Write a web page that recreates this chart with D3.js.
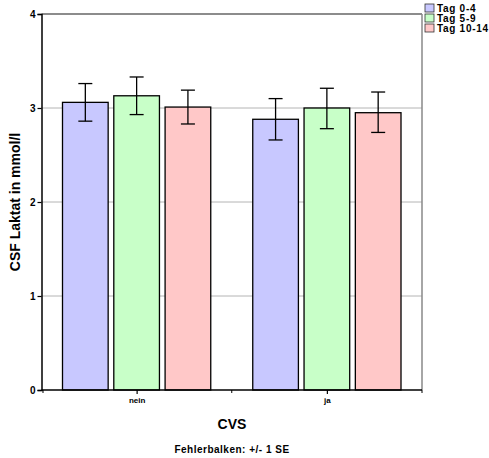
<!DOCTYPE html>
<html><head><meta charset="utf-8">
<script src="https://cdn.jsdelivr.net/npm/d3@7"></script>
<style>
html,body{margin:0;padding:0;background:#fff;}
svg text{font-family:"Liberation Sans",Arial,Helvetica,sans-serif;font-weight:bold;}
</style></head>
<body><svg id="c" width="489" height="458"></svg>
<script>
const categories = ["nein", "ja"];
const seriesNames = ["Tag 0-4", "Tag 5-9", "Tag 10-14"];
const means = [[3.06, 2.88], [3.13, 3.00], [3.01, 2.95]];
const errLow = [[2.86, 2.66], [2.93, 2.78], [2.83, 2.74]];
const errHigh = [[3.26, 3.10], [3.33, 3.21], [3.19, 3.17]];
const yTicks = [0, 1, 2, 3, 4];
const colors = ["#c8c8ff", "#c8ffc8", "#ffc8c8"];

const svg = d3.select("#c");
const L = 41.5, R = 422, T = 14, B = 390;
const y = d3.scaleLinear().domain([0, 4]).range([B, T]);
const x0 = d3.scaleBand().domain(categories).range([L, R]).paddingInner(0).paddingOuter(0);
const x1 = d3.scaleBand().domain(seriesNames).range([21, x0.bandwidth() - 21]).paddingInner(0.11).paddingOuter(0);

// gridlines
svg.append("g").selectAll("line").data(yTicks.filter(d => d > 0 && d < 4)).join("line")
  .attr("x1", L).attr("x2", R).attr("y1", d => y(d)).attr("y2", d => y(d))
  .attr("stroke", "#b4b4b4").attr("stroke-width", 1);

// frame top/right
svg.append("line").attr("x1", L).attr("x2", R).attr("y1", T).attr("y2", T).attr("stroke", "#666").attr("stroke-width", 1.5);
svg.append("line").attr("x1", R).attr("x2", R).attr("y1", T).attr("y2", B).attr("stroke", "#888").attr("stroke-width", 1.5);

// bars
const groups = svg.append("g").selectAll("g").data(categories).join("g")
  .attr("transform", d => `translate(${x0(d)},0)`);
seriesNames.forEach((s, si) => {
  groups.append("rect")
    .attr("x", x1(s)).attr("width", x1.bandwidth())
    .attr("y", (d, ci) => y(means[si][ci]))
    .attr("height", (d, ci) => B - y(means[si][ci]))
    .attr("fill", colors[si]).attr("stroke", "#000").attr("stroke-width", 1.3);
  const cx = x1(s) + x1.bandwidth() / 2;
  groups.append("line").attr("x1", cx).attr("x2", cx)
    .attr("y1", (d, ci) => y(errLow[si][ci])).attr("y2", (d, ci) => y(errHigh[si][ci]))
    .attr("stroke", "#000").attr("stroke-width", 1.3);
  [errLow, errHigh].forEach(arr => {
    groups.append("line").attr("x1", cx - 7).attr("x2", cx + 7)
      .attr("y1", (d, ci) => y(arr[si][ci])).attr("y2", (d, ci) => y(arr[si][ci]))
      .attr("stroke", "#000").attr("stroke-width", 1.3);
  });
});

// y axis
const yAxis = svg.append("g").attr("transform", `translate(${L},0)`)
  .call(d3.axisLeft(y).tickValues(yTicks).tickFormat(d3.format("d")).tickSize(4).tickPadding(2));
yAxis.select(".domain").attr("stroke", "#000").attr("stroke-width", 1.5);
yAxis.selectAll(".tick line").attr("stroke", "#000").attr("stroke-width", 1.2);
yAxis.selectAll("text").attr("font-size", 10).attr("fill", "#000");

// x axis
const xAxis = svg.append("g").attr("transform", `translate(0,${B})`)
  .call(d3.axisBottom(d3.scalePoint().domain(categories).range([x0("nein") + x0.bandwidth() / 2, x0("ja") + x0.bandwidth() / 2])).tickSize(4).tickPadding(3));
xAxis.select(".domain").remove();
xAxis.selectAll(".tick line").attr("stroke", "#000").attr("stroke-width", 1.2);
xAxis.selectAll("text").attr("font-size", 8).attr("fill", "#000");
svg.append("line").attr("x1", L).attr("x2", R).attr("y1", B).attr("y2", B).attr("stroke", "#000").attr("stroke-width", 1.5);
// boundary minor ticks
svg.append("g").selectAll("line").data([L + 1.5, x0("ja"), R]).join("line")
  .attr("x1", d => d).attr("x2", d => d).attr("y1", B).attr("y2", B + 3)
  .attr("stroke", "#000").attr("stroke-width", 1);

// titles
svg.append("text").attr("x", 232).attr("y", 429).attr("text-anchor", "middle").attr("font-size", 14).text("CVS");
svg.append("text").attr("x", 232).attr("y", 453).attr("text-anchor", "middle").attr("font-size", 10).attr("letter-spacing", 0.5).text("Fehlerbalken: +/- 1 SE");
svg.append("text").attr("transform", `translate(20,${(T + B) / 2}) rotate(-90)`).attr("text-anchor", "middle").attr("font-size", 14).text("CSF Laktat in mmol/l");

// legend
const lg = svg.append("g").selectAll("g").data(seriesNames).join("g")
  .attr("transform", (d, i) => `translate(425,${4 + i * 10})`);
lg.append("rect").attr("width", 9).attr("height", 8).attr("fill", (d, i) => colors[i]).attr("stroke", "#333").attr("stroke-width", 0.8);
lg.append("text").attr("x", 12).attr("y", 8).attr("font-size", 10).attr("letter-spacing", 0.7).text(d => d);
</script></body></html>
